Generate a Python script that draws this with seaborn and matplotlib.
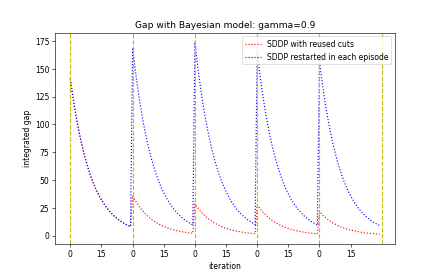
import numpy as np
import pandas as pd
import matplotlib
matplotlib.use("Agg")
import matplotlib.pyplot as plt
import seaborn as sns

# episode length and number of episodes
episode_len = 30
n_episodes = 5

# integrated gap per episode
reused_cuts = [
    # episode 1 (identical for both methods)
    141, 127.7, 115.7, 104.9, 95.0, 86.1, 78.0, 70.7, 64.0, 58.0,
    52.5, 47.6, 43.1, 39.1, 35.4, 32.1, 29.1, 26.3, 23.9, 21.6,
    19.6, 17.7, 16.1, 14.6, 13.2, 12.0, 10.8, 9.8, 8.9, 8.1,
    # episode 2
    35.8, 32.4, 29.4, 26.6, 24.1, 21.9, 19.8, 17.9, 16.3, 14.7,
    13.3, 12.1, 11.0, 9.9, 9.0, 8.1, 7.4, 6.7, 6.1, 5.5,
    5.0, 4.5, 4.1, 3.7, 3.4, 3.0, 2.7, 2.5, 2.3, 2.0,
    # episode 3
    28.6, 25.9, 23.5, 21.3, 19.3, 17.5, 15.8, 14.3, 13.0, 11.8,
    10.7, 9.7, 8.7, 7.9, 7.2, 6.5, 5.9, 5.3, 4.8, 4.4,
    4.0, 3.6, 3.3, 3.0, 2.7, 2.4, 2.2, 2.0, 1.8, 1.6,
    # episode 4
    27.7, 25.1, 22.7, 20.6, 18.7, 16.9, 15.3, 13.9, 12.6, 11.4,
    10.3, 9.4, 8.5, 7.7, 7.0, 6.3, 5.7, 5.2, 4.7, 4.2,
    3.8, 3.5, 3.2, 2.9, 2.6, 2.3, 2.1, 1.9, 1.7, 1.6,
    # episode 5
    21.6, 19.6, 17.7, 16.1, 14.6, 13.2, 11.9, 10.8, 9.8, 8.9,
    8.0, 7.3, 6.6, 6.0, 5.4, 4.9, 4.5, 4.0, 3.7, 3.3,
    3.0, 2.7, 2.5, 2.2, 2.0, 1.8, 1.7, 1.5, 1.4, 1.2,
]

restarted = [
    # episode 1
    141, 127.7, 115.7, 104.9, 95.0, 86.1, 78.0, 70.7, 64.0, 58.0,
    52.5, 47.6, 43.1, 39.1, 35.4, 32.1, 29.1, 26.3, 23.9, 21.6,
    19.6, 17.7, 16.1, 14.6, 13.2, 12.0, 10.8, 9.8, 8.9, 8.1,
    # episode 2
    169, 153.1, 138.7, 125.7, 113.9, 103.2, 93.5, 84.7, 76.7, 69.5,
    63.0, 57.1, 51.7, 46.8, 42.4, 38.4, 34.8, 31.6, 28.6, 25.9,
    23.5, 21.3, 19.3, 17.5, 15.8, 14.3, 13.0, 11.8, 10.6, 9.6,
    # episode 3
    174, 157.6, 142.8, 129.4, 117.2, 106.2, 96.2, 87.2, 79.0, 71.6,
    64.8, 58.7, 53.2, 48.2, 43.7, 39.6, 35.9, 32.5, 29.4, 26.7,
    24.2, 21.9, 19.8, 18.0, 16.3, 14.8, 13.4, 12.1, 11.0, 9.9,
    # episode 4
    165, 149.5, 135.4, 122.7, 111.2, 100.7, 91.3, 82.7, 74.9, 67.9,
    61.5, 55.7, 50.5, 45.7, 41.4, 37.5, 34.0, 30.8, 27.9, 25.3,
    22.9, 20.8, 18.8, 17.0, 15.4, 14.0, 12.7, 11.5, 10.4, 9.4,
    # episode 5
    157, 142.2, 128.9, 116.8, 105.8, 95.8, 86.8, 78.7, 71.3, 64.6,
    58.5, 53.0, 48.0, 43.5, 39.4, 35.7, 32.4, 29.3, 26.6, 24.1,
    21.8, 19.8, 17.9, 16.2, 14.7, 13.3, 12.1, 10.9, 9.9, 9.0,
]

iters = np.arange(episode_len * n_episodes)
df = pd.DataFrame({"iteration": iters,
                   "reused": reused_cuts,
                   "restarted": restarted})

fig, ax = plt.subplots(figsize=(8, 5), dpi=54.875)

sns.lineplot(data=df, x="iteration", y="reused", color="red", linestyle=":",
             linewidth=1.5, label="SDDP with reused cuts", ax=ax)
sns.lineplot(data=df, x="iteration", y="restarted", color="blue", linestyle=":",
             linewidth=1.5, label="SDDP restarted in each episode", ax=ax)

# episode boundaries
for k in range(n_episodes + 1):
    ax.axvline(k * episode_len, color="y", linestyle="--", linewidth=1.5)

ticks = np.arange(0, episode_len * n_episodes, 15)
ax.set_xticks(ticks)
ax.set_xticklabels([str(t % episode_len) for t in ticks])

ax.set_title("Gap with Bayesian model: gamma=0.9")
ax.set_xlabel("iteration")
ax.set_ylabel("integrated gap")
ax.legend(loc="upper right")

plt.savefig("out.png", dpi=54.875)
